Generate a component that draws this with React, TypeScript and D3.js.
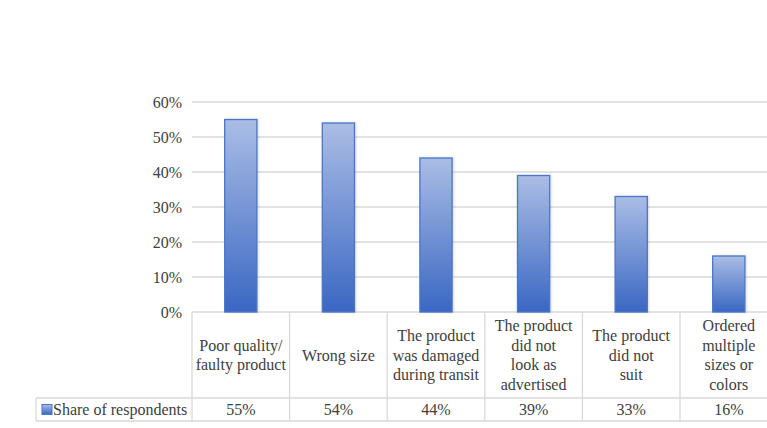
import React from "react";
import * as d3 from "d3";

const categories = [
  "Poor quality/ faulty product",
  "Wrong size",
  "The product was damaged during transit",
  "The product did not look as advertised",
  "The product did not suit",
  "Ordered multiple sizes or colors",
];
const categoryLines = [
  ["Poor quality/", "faulty product"],
  ["Wrong size"],
  ["The product", "was damaged", "during transit"],
  ["The product", "did not", "look as", "advertised"],
  ["The product", "did not", "suit"],
  ["Ordered", "multiple", "sizes or", "colors"],
];
const shares = [0.55, 0.54, 0.44, 0.39, 0.33, 0.16];
const yTicks = [0, 0.1, 0.2, 0.3, 0.4, 0.5, 0.6];
const seriesName = "Share of respondents";

const W = 767;
const H = 428;
const TEXT = "#404040";
const GRID = "#d9d9d9";

export default function App() {
  const left = 192;
  const colW = 97.6;
  const top = 102;
  const base = 312;
  const catBottom = 398;
  const tableBottom = 421;
  const tableLeft = 36;

  const x = d3
    .scaleBand<string>()
    .domain(categories)
    .range([left, left + colW * categories.length])
    .padding(0);
  const y = d3.scaleLinear().domain([0, 0.6]).range([base, top]);
  const fmt = d3.format(".0%");
  const barW = x.bandwidth() * 0.33;
  const right = left + colW * categories.length;
  const lineH = 19.5;
  const catMid = (base + catBottom) / 2;
  const valMid = (catBottom + tableBottom) / 2;
  const ts = { fontFamily: '"Liberation Serif"', fontSize: "16px" };

  return (
    <div style={{ position: "absolute", left: 0, top: 0, width: W, height: H, background: "#fff" }}>
      <svg width={W} height={H} style={{ display: "block" }}>
        <style>{`text, tspan { font-family: "Liberation Serif", "Tinos", serif !important; font-size: 16px; }`}</style>
        <defs>
          <linearGradient id="barGrad" x1="0" y1="0" x2="0" y2="1">
            <stop offset="0%" stopColor="#aabde5" />
            <stop offset="100%" stopColor="#3a67c3" />
          </linearGradient>
          <filter id="sh" x="-20%" y="-5%" width="140%" height="110%">
            <feDropShadow dx="1" dy="0" stdDeviation="1" floodColor="#000" floodOpacity="0.15" />
          </filter>
        </defs>

        {yTicks.map((t) => (
          <line key={t} x1={left} x2={right} y1={y(t)} y2={y(t)} stroke={GRID} strokeWidth={1.3} />
        ))}

        {yTicks.map((t) => (
          <text key={"l" + t} x={182} y={y(t) + 5.5} textAnchor="end" style={ts} fill={TEXT}>
            {fmt(t)}
          </text>
        ))}

        {categories.map((c, i) => (
          <rect
            key={c}
            x={(x(c) as number) + (x.bandwidth() - barW) / 2}
            y={y(shares[i])}
            width={barW}
            height={base - y(shares[i])}
            fill="url(#barGrad)"
            stroke="#4a76c8"
            strokeWidth={1.3}
            filter="url(#sh)"
          />
        ))}

        {categories.map((c) => (
          <line
            key={"v" + c}
            x1={x(c) as number}
            x2={x(c) as number}
            y1={base}
            y2={tableBottom}
            stroke={GRID}
            strokeWidth={1.3}
          />
        ))}
        <line x1={tableLeft} x2={tableLeft} y1={catBottom} y2={tableBottom} stroke={GRID} strokeWidth={1.3} />
        <line x1={tableLeft} x2={right} y1={catBottom} y2={catBottom} stroke={GRID} strokeWidth={1.3} />
        <line x1={tableLeft} x2={right} y1={tableBottom} y2={tableBottom} stroke={GRID} strokeWidth={1.3} />

        {categories.map((c, i) => {
          const lines = categoryLines[i];
          const cx = (x(c) as number) + x.bandwidth() / 2;
          const start = catMid - ((lines.length - 1) * lineH) / 2;
          return (
            <text key={"c" + c} style={ts} fill={TEXT} textAnchor="middle">
              {lines.map((ln, j) => (
                <tspan key={j} x={cx} y={start + j * lineH + 5.5}>
                  {ln}
                </tspan>
              ))}
            </text>
          );
        })}

        {categories.map((c, i) => (
          <text
            key={"val" + c}
            x={(x(c) as number) + x.bandwidth() / 2}
            y={valMid + 5.5}
            textAnchor="middle"
            style={ts}
            fill={TEXT}
          >
            {fmt(shares[i])}
          </text>
        ))}

        <rect x={42} y={404.5} width={10} height={10} fill="url(#barGrad)" stroke="#4a76c8" strokeWidth={1} />
        <text x={53} y={valMid + 5.5} style={ts} fill={TEXT}>
          {seriesName}
        </text>
      </svg>
    </div>
  );
}
